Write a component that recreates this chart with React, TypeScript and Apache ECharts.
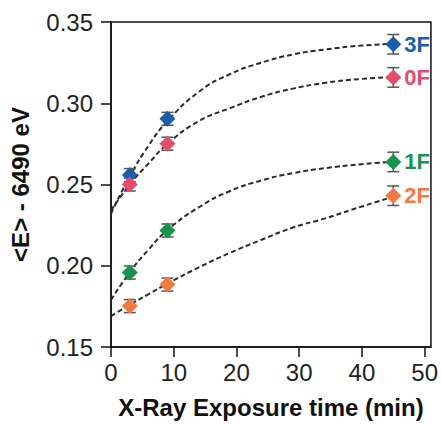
import React, { useEffect, useRef } from "react";
import * as echarts from "echarts";

const xPoints = [3, 9, 45];
const seriesNames = ["3F", "0F", "1F", "2F"];
const colors = ["#1a5ea8", "#e24d6d", "#17934b", "#f07a40"];
const yPoints = [
  [0.2558, 0.2904, 0.3363],
  [0.2500, 0.2751, 0.3159],
  [0.1958, 0.2217, 0.2639],
  [0.1752, 0.1884, 0.2431],
];
const yErrors = [
  [0.004, 0.004, 0.006],
  [0.004, 0.004, 0.006],
  [0.004, 0.004, 0.006],
  [0.004, 0.004, 0.006],
];
const curveX = [0, 3, 6, 9, 14, 19, 24, 29, 34, 40, 45];
const curveY = [
  [0.232, 0.255, 0.274, 0.289, 0.307, 0.318, 0.325, 0.33, 0.333, 0.3355, 0.3365],
  [0.234, 0.25, 0.263, 0.275, 0.289, 0.297, 0.304, 0.309, 0.3125, 0.315, 0.316],
  [0.179, 0.196, 0.21, 0.222, 0.236, 0.246, 0.2525, 0.257, 0.26, 0.2625, 0.264],
  [0.169, 0.176, 0.1825, 0.189, 0.199, 0.208, 0.216, 0.2235, 0.229, 0.2365, 0.2425],
];
const xTicks = [0, 10, 20, 30, 40, 50];
const yTicks = [0.15, 0.2, 0.25, 0.3, 0.35];

const FONT = "'Liberation Sans', Arial, Helvetica, sans-serif";

export default function App() {
  const ref = useRef<HTMLDivElement>(null);
  useEffect(() => {
    if (!ref.current) return;
    const chart = echarts.init(ref.current, undefined, { renderer: "svg" });
    const series: any[] = [];
    seriesNames.forEach((name, i) => {
      series.push({
        type: "line",
        name: name + "-fit",
        data: curveX.map((x, j) => [x, curveY[i][j]]),
        smooth: true,
        symbol: "none",
        lineStyle: { color: "#2a2a2a", width: 2, type: [5, 3] },
        z: 1,
      });
      series.push({
        type: "custom",
        name: name + "-err",
        data: xPoints.map((x, j) => [x, yPoints[i][j], yErrors[i][j]]),
        renderItem: (params: any, api: any) => {
          const x = api.value(0);
          const y = api.value(1);
          const e = api.value(2);
          const top = api.coord([x, y + e]);
          const bot = api.coord([x, y - e]);
          const hw = 6;
          const style = { stroke: "#555", lineWidth: 1.5 };
          return {
            type: "group",
            children: [
              { type: "line", shape: { x1: top[0], y1: top[1], x2: bot[0], y2: bot[1] }, style },
              { type: "line", shape: { x1: top[0] - hw, y1: top[1], x2: top[0] + hw, y2: top[1] }, style },
              { type: "line", shape: { x1: bot[0] - hw, y1: bot[1], x2: bot[0] + hw, y2: bot[1] }, style },
            ],
          };
        },
        z: 2,
      });
      series.push({
        type: "scatter",
        name,
        symbol: "diamond",
        symbolSize: [16, 16],
        itemStyle: { color: colors[i], opacity: 1 },
        data: xPoints.map((x, j) =>
          j === xPoints.length - 1
            ? {
                value: [x, yPoints[i][j]],
                label: {
                  show: true,
                  position: "right",
                  distance: 3,
                  formatter: name,
                  color: colors[i],
                  fontFamily: FONT,
                  fontWeight: "bold",
                  fontSize: 22,
                },
              }
            : { value: [x, yPoints[i][j]] }
        ),
        z: 3,
      });
    });

    chart.setOption({
      animation: false,
      grid: {
        left: 111,
        top: 22,
        right: 10,
        bottom: 75,
        show: true,
        borderColor: "#111",
        borderWidth: 1.5,
        backgroundColor: "transparent",
      },
      xAxis: {
        type: "value",
        min: 0,
        max: 51,
        interval: 10,
        name: "X-Ray Exposure time (min)",
        nameLocation: "middle",
        nameGap: 48,
        nameTextStyle: { fontFamily: FONT, fontWeight: "bold", fontSize: 24, color: "#111" },
        axisLine: { show: true, lineStyle: { color: "#111", width: 1.5 } },
        axisTick: { show: true, inside: false, length: 10, customValues: xTicks, lineStyle: { color: "#111", width: 1.5 } },
        axisLabel: { customValues: xTicks, margin: 13, fontFamily: FONT, fontSize: 24, color: "#222" },
        splitLine: { show: false },
      },
      yAxis: {
        type: "value",
        min: 0.15,
        max: 0.35,
        interval: 0.05,
        name: "<E> - 6490 eV",
        nameLocation: "middle",
        nameGap: 79,
        nameTextStyle: { fontFamily: FONT, fontWeight: "bold", fontSize: 24, color: "#111" },
        axisLine: { show: true, lineStyle: { color: "#111", width: 1.5 } },
        axisTick: { show: true, inside: false, length: 10, customValues: yTicks, lineStyle: { color: "#111", width: 1.5 } },
        axisLabel: {
          customValues: yTicks,
          margin: 18,
          fontFamily: FONT,
          fontSize: 24,
          color: "#222",
          formatter: (v: number) => v.toFixed(2),
        },
        splitLine: { show: false },
      },
      series,
    });
    return () => chart.dispose();
  }, []);
  return <div ref={ref} style={{ width: 441, height: 424, position: "absolute", left: 0, top: 0 }} />;
}
